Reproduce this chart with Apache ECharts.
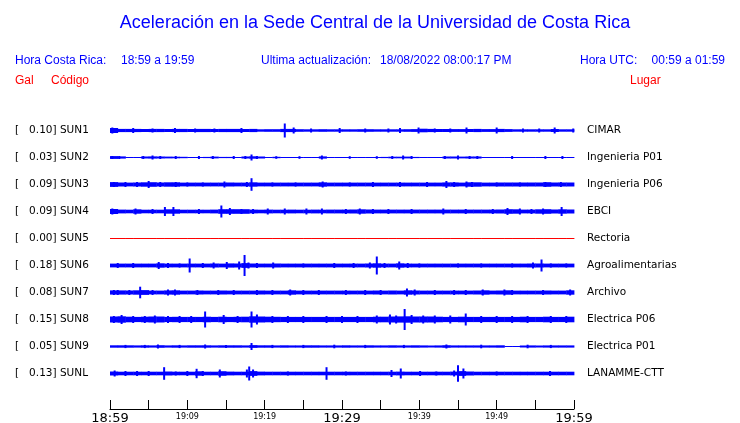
<!DOCTYPE html>
<html>
<head>
<meta charset="utf-8">
<script src="https://cdn.jsdelivr.net/npm/echarts@6/dist/echarts.min.js"></script>
<style>
html,body{margin:0;padding:0;background:#fff;}
#chart{width:740px;height:423px;}
</style>
</head>
<body>
<div id="chart"></div>
<script>
// ---- DATA ----
const TITLE = 'Aceleración en la Sede Central de la Universidad de Costa Rica';
const TIME_LABELS = ['18:59', '19:09', '19:19', '19:29', '19:39', '19:49', '19:59'];
const CODES = ['SUN1', 'SUN2', 'SUN3', 'SUN4', 'SUN5', 'SUN6', 'SUN7', 'SUN8', 'SUN9', 'SUNL'];
const GAL = ['0.10', '0.03', '0.09', '0.09', '0.00', '0.18', '0.08', '0.15', '0.05', '0.13'];
const PLACES = ['CIMAR', 'Ingenieria P01', 'Ingenieria P06', 'EBCI', 'Rectoria', 'Agroalimentarias', 'Archivo', 'Electrica P06', 'Electrica P01', 'LANAMME-CTT'];

// per-minute envelope half-amplitude (display units) for each station, minutes 0..59 after 18:59
const SUN1_ENV = [2.5,1.6,1.6,1.6,1.5,1.6,1.6,1.5,1.6,1.6, 1.5,1.6,1.6,1.5,1.6,1.6,1.6,1.5,1.6,1.2, 1.3,1.3,1.6,1.6,1.3,1.2,1.2,1.3,1.2,1.2, 1.2,1.2,1.3,1.3,1.2,1.2,1.2,1.2,1.3,1.4, 1.8,1.6,1.5,1.5,1.4,1.4,1.5,1.6,1.4,1.4, 1.6,1.4,1.2,1.2,1.2,1.2,1.2,1.5,1.2,1.2];
const SUN2_ENV = [1.4,1.1,0,0,1.0,1.1,1.0,0.9,0.8,0.7, 0.5,0,0.6,0.9,0.6,0.6,0.5,1.0,1.2,1.0, 0,0.7,0.5,0,0.5,0,0.5,1.1,0,0, 0,0.5,0,0,0.5,0.6,0.8,0.8,0.9,0.6, 0,0,0.5,1.0,1.0,0.9,1.0,1.0,0,0, 0,0,0.5,0,0,0,0,0.5,0,0];
const SUN3_ENV = [2.4,2.0,1.9,2.0,2.2,2.3,2.0,2.2,2.2,1.9, 1.9,1.9,1.9,1.9,1.9,2.0,1.9,1.9,2.2,1.9, 1.9,1.9,1.9,1.9,1.9,1.9,1.9,2.2,1.9,1.9, 1.9,1.9,1.9,1.9,1.9,1.9,1.9,1.9,1.9,1.9, 1.9,1.9,1.9,2.1,2.1,1.9,2.2,2.2,1.9,1.9, 2.0,2.0,2.0,2.0,2.0,2.0,2.3,2.0,2.0,2.0];
const SUN4_ENV = [2.5,1.9,1.8,2.2,1.8,1.8,1.8,2.2,2.2,1.8, 1.8,1.8,1.8,1.9,2.3,2.3,2.3,2.3,1.9,1.8, 1.9,1.8,1.8,1.9,1.8,1.8,1.9,1.8,1.9,1.9, 1.9,2.0,2.2,2.0,1.9,1.9,1.9,1.9,1.9,1.9, 1.9,1.9,1.9,1.9,1.9,1.9,1.9,1.9,1.9,1.9, 2.0,2.3,2.2,1.9,1.9,2.2,2.3,2.0,2.2,2.0];
const SUN5_ENV = [0,0,0,0,0,0,0,0,0,0, 0,0,0,0,0,0,0,0,0,0, 0,0,0,0,0,0,0,0,0,0, 0,0,0,0,0,0,0,0,0,0, 0,0,0,0,0,0,0,0,0,0, 0,0,0,0,0,0,0,0,0,0];
const SUN6_ENV = [1.9,1.9,1.9,1.9,1.9,1.9,2.2,1.9,1.9,1.9, 1.9,1.9,1.9,2.0,1.9,2.1,2.0,2.4,2.0,1.9, 1.9,2.0,1.9,1.9,1.9,1.9,1.9,1.9,1.9,1.9, 1.9,1.9,1.9,2.0,2.2,1.9,1.9,2.2,1.9,1.9, 1.9,1.9,1.9,1.9,1.9,1.9,1.9,1.9,1.9,1.9, 1.9,1.9,1.9,1.9,2.0,2.0,1.9,1.9,1.9,1.9];
const SUN7_ENV = [2.1,2.1,2.0,2.2,2.4,1.9,1.9,2.1,2.2,1.9, 1.9,2.0,1.9,1.9,2.0,1.9,1.9,1.9,1.9,2.0, 1.9,1.9,1.9,2.2,1.9,1.9,1.9,1.9,1.9,1.9, 1.9,1.9,1.9,1.9,2.0,1.9,2.0,1.9,2.2,2.0, 1.9,1.9,1.9,1.9,1.9,1.9,1.9,2.0,2.2,1.9, 2.0,2.2,1.9,1.9,1.9,1.9,2.0,1.9,1.9,2.2];
const SUN8_ENV = [3.0,3.2,2.8,2.6,2.8,3.0,3.0,2.6,2.7,2.6, 2.6,2.6,2.8,2.6,2.8,2.6,2.7,2.8,3.2,3.0, 2.8,2.7,2.6,2.6,2.6,2.6,2.6,2.6,2.6,2.6, 2.6,2.6,2.6,2.6,2.8,2.8,3.0,3.1,3.2,3.0, 3.0,3.0,2.8,2.6,2.6,2.8,2.6,2.6,2.6,2.6, 2.6,2.6,2.6,2.8,2.6,2.6,2.8,2.6,2.6,2.8];
const SUN9_ENV = [1.2,1.2,1.2,1.1,1.2,1.1,1.3,1.1,1.2,1.1, 1.2,1.2,1.2,1.1,1.2,1.2,1.2,1.1,1.4,1.2, 1.2,1.1,1.2,1.1,1.1,1.2,1.2,1.1,1.1,1.1, 1.2,1.1,1.1,1.2,1.1,1.1,1.2,1.1,1.1,1.2, 1.1,1.0,1.1,1.3,1.1,1.1,1.1,1.1,1.1,1.1, 1.2,0.5,0.5,1.0,1.1,1.0,1.1,1.1,1.1,1.1];
const SUNL_ENV = [2.0,1.8,1.8,1.8,1.8,1.8,1.8,2.0,1.8,1.8, 1.8,2.2,1.8,1.8,2.3,1.9,1.8,1.8,2.4,1.9, 1.8,1.8,1.8,1.8,1.8,1.8,1.8,1.8,1.8,1.8, 1.8,1.8,1.8,1.8,1.8,1.8,1.8,1.9,1.8,1.8, 1.8,1.8,1.8,1.8,1.9,2.4,2.0,1.8,1.8,1.8, 1.8,1.8,1.8,1.8,1.8,1.8,1.8,1.8,1.8,1.8];

// peaks: [minute after 18:59, half-amplitude]
const SUN1_PEAKS = [[0.3,3],[3.0,2.5],[5.5,2],[8.4,2.5],[11,2],[13.5,2],[17,2.5],[22.6,7],[23.75,3],[26,2],[29.7,2.5],[33,2],[36,2],[37.5,2.5],[39.9,3],[42,2],[44,2],[46.1,3],[50,3],[53.4,2],[55.5,2],[57.5,3],[59.9,2]];
const SUN2_PEAKS = [[0.3,1.5],[1.2,1.5],[4.3,1.5],[5.5,2],[6.5,1.5],[8.5,1.5],[11.5,1.5],[13.3,1.5],[16,1.5],[17.5,1.5],[18.3,3],[19,1.5],[21.5,1.3],[24.5,1.3],[27.4,2],[31,1.3],[34.5,1.3],[36.5,1.5],[37.9,2],[39,1.5],[43.3,1.5],[45,2],[46.5,1.5],[47.5,1.5],[52,1.5],[56.3,1.5],[58.5,1.5]];
const SUN3_PEAKS = [[0.5,2.5],[2,2.5],[3.5,2.5],[5,3.5],[6.5,2.5],[8.5,2.5],[10,2],[12,2],[14.8,3],[17.7,2.5],[18.3,6.3],[21,2],[24,2],[27.5,3],[31,2],[34,2.5],[37.5,2.5],[41,2.5],[43.5,3.5],[44.5,2.5],[46.1,3],[46.8,2.5],[50,2],[53,2],[56.3,2.5],[58.3,2.5]];
const SUN4_PEAKS = [[0.3,3],[3.3,3],[5.5,2.5],[7.1,4.5],[8.2,4.5],[11.5,2.5],[14.4,6],[15.5,3.5],[17,2.5],[18.5,2.5],[20.4,3],[22.6,3],[25.4,3],[27.4,3],[30.5,2.5],[32.3,3],[34,2.5],[36,2.5],[39,2.5],[43.1,3],[46,2.5],[49.5,2.5],[51.4,3.5],[53,3],[54.5,2.5],[56,3],[58.4,4.5]];
const SUN5_PEAKS = [];
const SUN6_PEAKS = [[1,2.5],[3,2.5],[6.3,3.5],[7.5,2.5],[9,2],[10.3,7],[12,2.5],[13.4,3],[15.1,3.5],[16.7,4],[17.4,10.5],[17.9,3],[19,2.5],[21.1,3],[25,2],[29,2.5],[31.5,2.5],[33.6,3],[34.5,9],[35.5,2.5],[37.4,4],[38.5,2.5],[40,2],[45,2],[48,2],[52,2],[54.7,3],[55.8,6],[57,2],[59,2]];
const SUN7_PEAKS = [[0.5,2.5],[1,2.5],[2.5,2.5],[3.9,5.8],[5.5,2.5],[7.5,3],[8.4,3],[11.3,2.5],[14,2.5],[16,2.5],[19,2.5],[21,2.5],[23.3,3],[25,2.5],[27,2.5],[30.5,2.5],[33,2.5],[35,2.5],[38.4,4],[39.4,3],[42,2.5],[44.5,2.5],[46,2.5],[48.2,3],[51,3],[52,2.5],[56,2.5],[59.5,3]];
const SUN8_PEAKS = [[0.5,3.5],[1.5,4.5],[3,3.5],[4.5,3.5],[5.8,4],[7.5,3.5],[9,3.5],[10.5,3.5],[12.3,8],[14.7,4.5],[16.5,3.5],[18.3,8],[19,5],[21,3.5],[23,3.5],[25,3.5],[28,3.5],[30,3.5],[32,3.5],[34.5,4],[36.2,5],[37,4],[38.1,10.5],[39,4.5],[40.5,4],[42,4],[44,4],[46,6],[48,3.5],[50,3.5],[52,3.5],[54,3.5],[57,3.5],[59,3.5]];
const SUN9_PEAKS = [[2,1.6],[4.5,1.6],[6.2,2],[9,1.6],[12.3,2],[15,1.6],[18.3,3.5],[21,1.6],[25,1.6],[29,1.8],[33,1.6],[38,1.6],[43.5,2],[48,1.8],[54,1.8],[57,1.6]];
const SUNL_PEAKS = [[0.6,3],[2,2.5],[3.5,2.5],[5,2.5],[7.0,6.3],[8.5,2],[10,2.5],[11.2,4.7],[12,2.5],[14.2,4],[17.7,4],[18,7],[18.5,4],[23,2],[28,6.3],[30.5,2],[36.4,3.5],[37.6,5],[40.1,2.5],[42.2,2],[44.5,3],[45,8.3],[45.7,5],[50,2],[56.9,2.5]];

const ENVS = [SUN1_ENV, SUN2_ENV, SUN3_ENV, SUN4_ENV, SUN5_ENV, SUN6_ENV, SUN7_ENV, SUN8_ENV, SUN9_ENV, SUNL_ENV];
const PEAKS = [SUN1_PEAKS, SUN2_PEAKS, SUN3_PEAKS, SUN4_PEAKS, SUN5_PEAKS, SUN6_PEAKS, SUN7_PEAKS, SUN8_PEAKS, SUN9_PEAKS, SUNL_PEAKS];

// ---- LAYOUT / STYLE ----
const ROW = 27;            // display units per trace row
const BLUE = '#0000ff';
const RED = '#ff0000';
const LABEL_FONT = 'DejaVu Sans';
const HEAD_FONT = 'Liberation Sans';

const chart = echarts.init(document.getElementById('chart'), null, {renderer: 'canvas'});

function traceColor(i) { return Number(GAL[i]) === 0 ? RED : BLUE; }

const series = CODES.map((code, i) => {
  const data = [];
  ENVS[i].forEach((h, t) => data.push([t, h, i, 0]));
  PEAKS[i].forEach(p => data.push([p[0], p[1], i, 1]));
  const color = traceColor(i);
  return {
    name: code,
    type: 'custom',
    xAxisIndex: 0,
    yAxisIndex: 0,
    silent: true,
    animation: false,
    clip: false,
    data: data,
    renderItem: function (params, api) {
      const t = api.value(0), h = Math.max(api.value(1), 0.5), r = api.value(2), kind = api.value(3);
      const c = r * ROW;
      if (kind === 0) {
        const p0 = api.coord([t, c - h]);
        const p1 = api.coord([t + 1, c + h]);
        return {type: 'rect', shape: {x: p0[0], y: p0[1], width: p1[0] - p0[0] + 0.4, height: p1[1] - p0[1]}, style: {fill: color}};
      } else {
        const p0 = api.coord([t, c - h]);
        const p1 = api.coord([t, c + h]);
        return {type: 'rect', shape: {x: p0[0] - 1, y: p0[1], width: 2, height: p1[1] - p0[1]}, style: {fill: color}};
      }
    }
  };
});

const leftLabels = CODES.map((c, i) => '[   ' + GAL[i] + '] ' + c);

const head = (text, x, y, color, size, align) => ({
  type: 'text', x: x, y: y, silent: true,
  style: {text: text, fill: color, font: size + 'px "' + HEAD_FONT + '"', align: align || 'left', verticalAlign: 'middle'}
});

const option = {
  backgroundColor: '#ffffff',
  animation: false,
  grid: {left: 110, right: 166, top: 117, height: 270, containLabel: false, outerBoundsMode: 'none'},
  xAxis: {
    type: 'value', min: 0, max: 60, interval: 5, offset: 22,
    axisLine: {onZero: false, lineStyle: {color: '#000', width: 1}},
    axisTick: {inside: true, length: 9, lineStyle: {color: '#000', width: 1}},
    splitLine: {show: false},
    axisLabel: {
      margin: 3, showMinLabel: true, showMaxLabel: true,
      formatter: function (v) {
        if (v % 10 !== 0) return '';
        const lab = TIME_LABELS[v / 10];
        return v % 30 === 0 ? '{big|' + lab + '}' : '{small|' + lab + '}';
      },
      rich: {
        big: {fontFamily: LABEL_FONT, fontSize: 13, color: '#000', verticalAlign: 'top', padding: [0, 0, 0, 0]},
        small: {fontFamily: LABEL_FONT, fontSize: 8, color: '#000', verticalAlign: 'top', padding: [1, 0, 0, 0]}
      }
    }
  },
  yAxis: [
    {type: 'value', min: -ROW / 2, max: ROW * 9.5, inverse: true, show: false},
    {type: 'category', data: leftLabels, inverse: true, position: 'left',
      axisLine: {show: false}, axisTick: {show: false}, splitLine: {show: false},
      axisLabel: {align: 'left', margin: 95, fontFamily: LABEL_FONT, fontSize: 10.5, color: '#000'}},
    {type: 'category', data: PLACES, inverse: true, position: 'right',
      axisLine: {show: false}, axisTick: {show: false}, splitLine: {show: false},
      axisLabel: {align: 'left', margin: 13, fontFamily: LABEL_FONT, fontSize: 10.5, color: '#000'}}
  ],
  graphic: [
    head(TITLE, 375, 23, BLUE, 18, 'center'),
    head('Hora Costa Rica:', 15, 61, BLUE, 12),
    head('18:59 a 19:59', 121, 61, BLUE, 12),
    head('Ultima actualización:', 261, 61, BLUE, 12),
    head('18/08/2022 08:00:17 PM', 380, 61, BLUE, 12),
    head('Hora UTC:', 580, 61, BLUE, 12),
    head('00:59 a 01:59', 725, 61, BLUE, 12, 'right'),
    head('Gal', 15, 81, RED, 12),
    head('Código', 51, 81, RED, 12),
    head('Lugar', 630, 81, RED, 12)
  ],
  series: series
};
chart.setOption(option);
</script>
</body>
</html>
